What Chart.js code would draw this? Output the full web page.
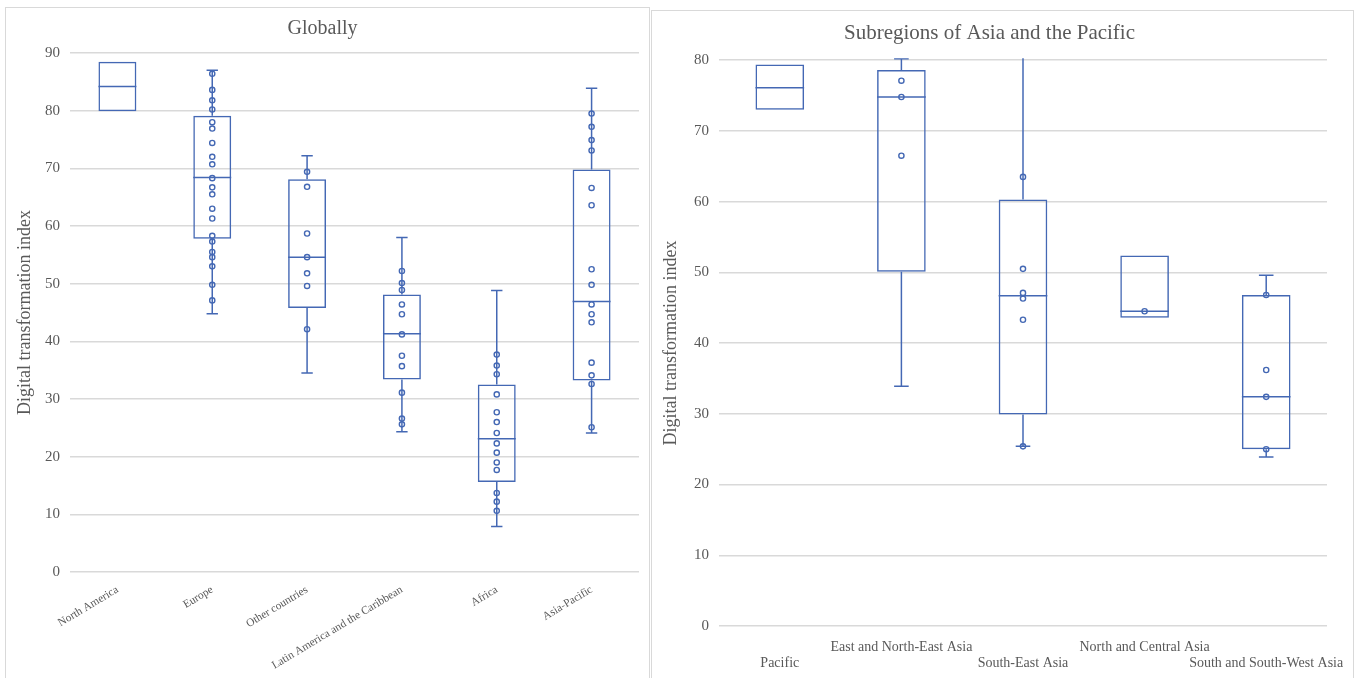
<!DOCTYPE html>
<html>
<head>
<meta charset="utf-8">
<script src="https://cdn.jsdelivr.net/npm/chart.js@4.4.0/dist/chart.umd.min.js"></script>
<style>
  body { margin: 0; background: #fff; width: 1358px; height: 678px; overflow: hidden; position: relative; }
  .frame { position: absolute; border: 1px solid #d9d9d9; box-sizing: border-box; }
  canvas { position: absolute; }
</style>
</head>
<body>
<div class="frame" style="left:5px;top:7px;width:645px;height:690px"></div>
<div class="frame" style="left:651px;top:10px;width:703px;height:690px"></div>
<canvas id="globalChart" width="643" height="670" style="left:6px;top:8px"></canvas>
<canvas id="asiaChart" width="701" height="667" style="left:652px;top:11px"></canvas>
<script>
// Globally
const globalLabels = ['North America', 'Europe', 'Other countries', 'Latin America and the Caribbean', 'Africa', 'Asia-Pacific'];
const globalMin    = [79.9, 44.8, 34.5, 24.3, 7.9, 24.1];
const globalQ1     = [79.9, 57.8, 45.8, 33.4, 15.6, 33.2];
const globalMedian = [84.2, 68.4, 54.6, 41.3, 23.1, 46.9];
const globalQ3     = [88.5, 79.1, 68.1, 48.1, 32.5, 69.8];
const globalMax    = [88.5, 87.0, 72.2, 58.0, 48.8, 83.9];
const globalPoints = [
  [],
  [86.4, 83.6, 81.8, 80.2, 78.0, 76.9, 74.4, 72.0, 70.7, 68.3, 66.7, 65.5, 63.0, 61.3, 58.3, 57.3, 55.5, 54.6, 53.0, 49.8, 47.1],
  [69.4, 66.8, 58.7, 54.6, 51.8, 49.6, 42.1],
  [52.2, 50.1, 48.9, 46.4, 44.7, 41.2, 37.5, 35.7, 31.1, 26.6, 25.6],
  [37.7, 35.8, 34.3, 30.8, 27.7, 26.0, 24.1, 22.3, 20.7, 19.0, 17.7, 13.7, 12.2, 10.6],
  [79.5, 77.2, 74.9, 73.1, 66.6, 63.6, 52.5, 49.8, 46.4, 44.7, 43.3, 36.3, 34.1, 32.6, 25.1]
];

// Subregions of Asia and the Pacific (labels staggered on two rows)
const asiaLabels = [['', 'Pacific'], ['East and North-East Asia', ''], ['', 'South-East Asia'], ['North and Central Asia', ''], ['', 'South and South-West Asia']];
const asiaMin    = [73.0, 33.9, 25.4, 43.6, 23.9];
const asiaQ1     = [73.0, 50.1, 29.9, 43.6, 25.0];
const asiaMedian = [76.1, 74.8, 46.7, 44.5, 32.4];
const asiaQ3     = [79.4, 78.6, 60.3, 52.4, 46.8];
const asiaMax    = [79.4, 80.2, 86.0, 52.4, 49.6];
const asiaPoints = [
  [],
  [77.1, 74.8, 66.5],
  [63.5, 50.5, 47.1, 46.3, 43.3, 25.4],
  [44.5],
  [46.8, 36.2, 32.4, 25.0]
];

const blue = '#4468b4';
const textGrey = '#595959';
const serif = "'Liberation Serif', 'Times New Roman', serif";

// whiskers, caps and median lines drawn from the bar elements + y scale
const boxWhiskers = {
  id: 'boxWhiskers',
  beforeDatasetsDraw(chart) {
    const ctx = chart.ctx;
    const yScale = chart.scales.y;
    const area = chart.chartArea;
    chart.data.datasets.forEach((ds, di) => {
      if (!ds.median) return;
      const meta = chart.getDatasetMeta(di);
      ctx.save();
      ctx.beginPath();
      ctx.rect(area.left, area.top - 2, area.right - area.left, area.bottom - area.top + 4);
      ctx.clip();
      ctx.strokeStyle = blue;
      ctx.lineWidth = 1.5;
      meta.data.forEach((bar, i) => {
        const x = bar.x;
        const half = bar.width / 2;
        const cap = bar.width * 0.15;
        const yMed = yScale.getPixelForValue(ds.median[i]);
        const yQ1 = yScale.getPixelForValue(ds.data[i][0]);
        const yQ3 = yScale.getPixelForValue(ds.data[i][1]);
        const yMin = yScale.getPixelForValue(ds.whiskerMin[i]);
        const yMax = yScale.getPixelForValue(ds.whiskerMax[i]);
        ctx.beginPath();
        ctx.moveTo(x - half, yMed); ctx.lineTo(x + half, yMed);
        if (yMax < yQ3 - 0.5) {
          ctx.moveTo(x, yQ3); ctx.lineTo(x, yMax);
          ctx.moveTo(x - cap, yMax); ctx.lineTo(x + cap, yMax);
        }
        if (yMin > yQ1 + 0.5) {
          ctx.moveTo(x, yQ1); ctx.lineTo(x, yMin);
          ctx.moveTo(x - cap, yMin); ctx.lineTo(x + cap, yMin);
        }
        ctx.stroke();
      });
      ctx.restore();
    });
  }
};

function makeChart(id, cfg) {
  // one point dataset per rank, aligned with the categories (null where a category has fewer points)
  const rows = Math.max(...cfg.points.map(p => p.length));
  const pointSets = [];
  for (let j = 0; j < rows; j++) {
    pointSets.push({
      type: 'line',
      showLine: false,
      data: cfg.points.map(p => (j < p.length ? p[j] : null)),
      pointRadius: 2.6,
      pointBorderWidth: 1.4,
      pointBorderColor: blue,
      pointBackgroundColor: 'rgba(255,255,255,0)'
    });
  }

  return new Chart(document.getElementById(id), {
    type: 'bar',
    data: {
      labels: cfg.labels,
      datasets: [
        {
          type: 'bar',
          data: cfg.q1.map((v, i) => [v, cfg.q3[i]]),
          median: cfg.median,
          whiskerMin: cfg.min,
          whiskerMax: cfg.max,
          backgroundColor: 'rgba(255,255,255,0)',
          borderColor: blue,
          borderWidth: 1.5,
          borderSkipped: false,
          barPercentage: 0.4,
          categoryPercentage: 1
        },
        ...pointSets
      ]
    },
    options: {
      responsive: false,
      animation: false,
      layout: { padding: { left: 0, right: cfg.rightPad, top: 0, bottom: 0 } },
      plugins: {
        legend: { display: false },
        tooltip: { enabled: false },
        title: {
          display: true,
          text: cfg.title,
          color: textGrey,
          font: { family: serif, size: cfg.titleSize, weight: 'normal' },
          padding: { top: cfg.titleTop, bottom: cfg.titleBottom }
        }
      },
      scales: {
        x: {
          type: 'category',
          grid: { display: false },
          border: { display: false },
          ticks: {
            autoSkip: false,
            maxRotation: cfg.rotation,
            minRotation: cfg.rotation,
            padding: cfg.xPad,
            color: textGrey,
            font: { family: serif, size: cfg.xFont, lineHeight: 16 / cfg.xFont }
          },
          afterFit: s => { s.height = cfg.xHeight; }
        },
        y: {
          min: 0,
          max: cfg.yMax,
          grid: { color: '#d9d9d9', lineWidth: 1.5, drawTicks: false },
          border: { display: false },
          ticks: {
            stepSize: 10,
            padding: 10,
            color: textGrey,
            font: { family: serif, size: 15 }
          },
          title: {
            display: true,
            text: 'Digital transformation index',
            color: textGrey,
            font: { family: serif, size: 18 },
            padding: { top: 8, bottom: 0 }
          },
          afterFit: s => { s.width = cfg.yWidth; }
        }
      }
    },
    plugins: [boxWhiskers]
  });
}

makeChart('globalChart', {
  labels: globalLabels, min: globalMin, q1: globalQ1, median: globalMedian, q3: globalQ3, max: globalMax, points: globalPoints,
  title: 'Globally', titleSize: 20, titleTop: 9, titleBottom: 12,
  yMax: 90, yWidth: 64, rightPad: 10, xHeight: 106, rotation: 31, xPad: 2, xFont: 11.3
});

makeChart('asiaChart', {
  labels: asiaLabels, min: asiaMin, q1: asiaQ1, median: asiaMedian, q3: asiaQ3, max: asiaMax, points: asiaPoints,
  title: 'Subregions of Asia and the Pacific', titleSize: 21, titleTop: 10, titleBottom: 14,
  yMax: 80, yWidth: 67, rightPad: 26, xHeight: 52, rotation: 0, xPad: 5, xFont: 14
});
</script>
</body>
</html>
